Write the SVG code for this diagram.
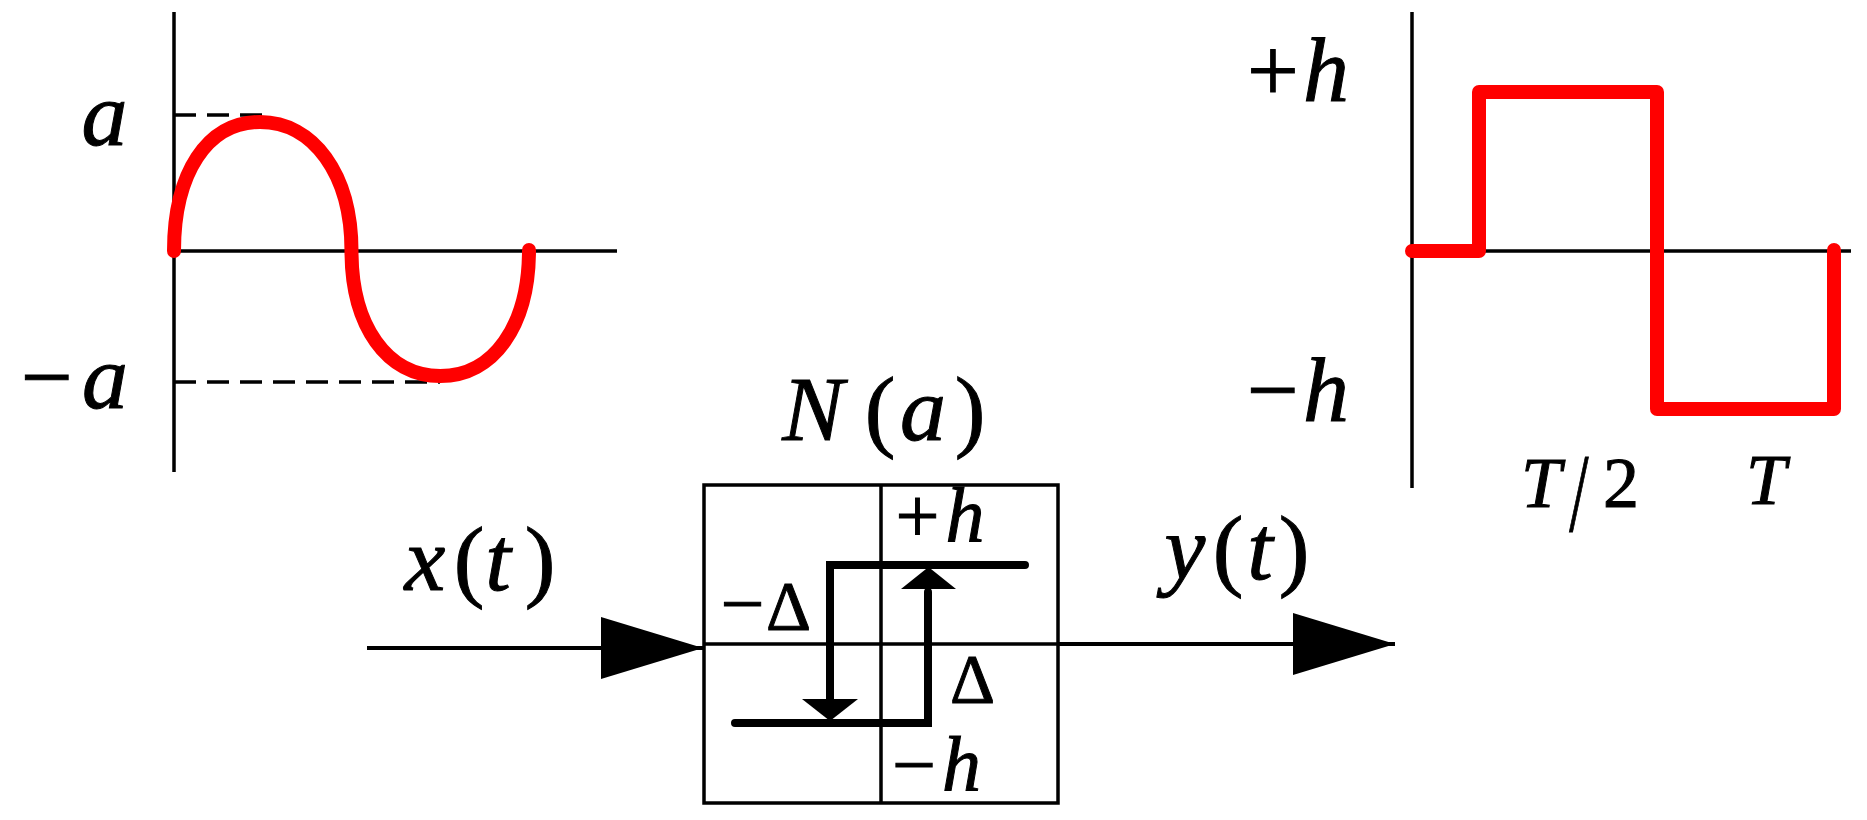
<svg xmlns="http://www.w3.org/2000/svg" width="1867" height="820" viewBox="0 0 1867 820">
<style>
.ax{stroke:#000;stroke-width:3.5;fill:none}
.dash{stroke:#000;stroke-width:3.5;stroke-dasharray:22 11;fill:none}
.red{stroke:#f00;stroke-width:14;fill:none;stroke-linecap:round;stroke-linejoin:round}
.thk{stroke:#000;stroke-width:8;fill:none;stroke-linecap:round;stroke-linejoin:miter}
.box{stroke:#000;stroke-width:3.5;fill:none}
.ln{stroke:#000;stroke-width:4;fill:none}
.head{fill:#000;stroke:none}
text{font-family:"Liberation Serif",Tinos,"Times New Roman",serif;fill:#000;stroke:#000;stroke-width:1;text-anchor:middle}
.i{font-style:italic}
.L{font-size:92px}
.M{font-size:78px}
.S{font-size:70px}
.T{font-size:72px}
</style>
<defs>
<marker id="bigArrow" markerUnits="userSpaceOnUse" viewBox="0 0 102 62" markerWidth="102" markerHeight="62" refX="102" refY="31" orient="auto">
<path d="M0,0 L102,31 L0,62 Z" fill="#000"/>
</marker>
</defs>

<g id="sine-plot">
<path class="ax" d="M174,12 V472 M174,251 H617"/>
<path class="dash" d="M174,115 H263"/>
<path class="dash" d="M174,382 H440"/>
<path class="red" d="M174,251 C174,173.6 207,122 260,122 C313,122 351.5,173.6 351.5,251 C351.5,326 387,376 440.25,376 C493.5,376 529,326 529,250"/>
<text class="L i" x="104.5" y="145">a</text>
<text class="L" x="47" y="408">−</text>
<text class="L i" x="105" y="408">a</text>
</g>

<g id="square-plot">
<path class="ax" d="M1412,12 V488 M1412,251 H1851"/>
<path class="red" d="M1412,251 H1479 V92 H1657 V409 H1834 V250"/>
<text class="L" x="1273" y="101">+</text>
<text class="L i" x="1326" y="101">h</text>
<text class="L" x="1273" y="421">−</text>
<text class="L i" x="1326" y="421">h</text>
<text class="T i" x="1541" y="507">T</text>
<text style="font-size:112px" transform="translate(1579,531) scale(0.62,1)" x="0" y="0">/</text>
<text class="T" x="1621" y="507">2</text>
<text class="T i" x="1766" y="504">T</text>
</g>

<g id="block-N">
<rect class="box" x="704" y="485" width="354" height="318"/>
<path class="box" d="M881,485 V803 M704,644 H1058"/>
<path class="thk" d="M1025,565 H830 V702"/>
<polygon class="head" points="802,699 858,699 830,721"/>
<path class="thk" d="M735,723 H928 V592"/>
<polygon class="head" points="901,589 956,589 928.5,567"/>
<text class="L i" x="813" y="440">N</text>
<text class="L" x="880" y="440">(</text>
<text class="L i" x="923" y="440">a</text>
<text class="L" x="970" y="440">)</text>
<text class="M" x="917.5" y="542">+</text>
<text class="M i" x="965" y="542">h</text>
<text class="M" x="742.5" y="630">−</text>
<text class="S" x="788.5" y="630">Δ</text>
<text class="S" x="972.5" y="703">Δ</text>
<text class="M" x="914" y="791">−</text>
<text class="M i" x="961.5" y="791">h</text>
</g>

<g id="label-x">
<text class="L i" x="425" y="590">x</text>
<text class="L" x="469" y="590">(</text>
<text class="L i" x="498" y="590">t</text>
<text class="L" x="540" y="590">)</text>
</g>
<g id="label-y">
<text class="L i" x="1185" y="579">y</text>
<text class="L" x="1228" y="579">(</text>
<text class="L i" x="1260" y="579">t</text>
<text class="L" x="1294" y="579">)</text>
</g>

<g id="connectors">
<path class="ln" d="M367,648 H703" marker-end="url(#bigArrow)"/>
<path class="ln" d="M1058,644 H1395" marker-end="url(#bigArrow)"/>
</g>
</svg>
